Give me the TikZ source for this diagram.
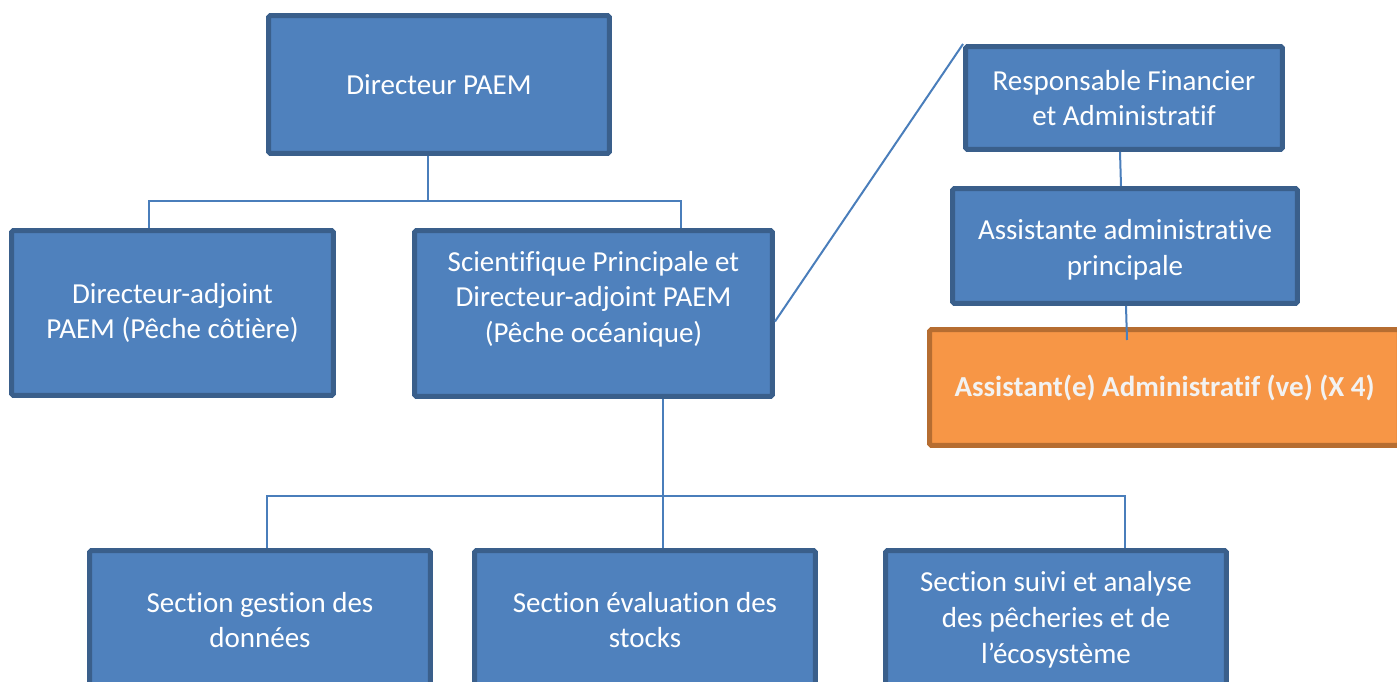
\documentclass[tikz,border=0pt]{standalone}
\usepackage{fontspec}
\setmainfont[Ligatures=NoCommon]{Carlito}
\usepackage{tikz}
\usetikzlibrary{calc}

\definecolor{boxblue}{HTML}{4F81BD}
\definecolor{boxedge}{HTML}{3A5F8B}
\definecolor{linkblue}{HTML}{4A7EBB}
\definecolor{boxorange}{HTML}{F79646}
\definecolor{orangeedge}{HTML}{B66D31}

\tikzset{
    box/.style={draw=boxedge, fill=boxblue, line width=0.1cm, rounded corners=1pt,
        text=white, align=center, inner sep=0pt,
        font=\fontsize{16.5}{20.4}\selectfont},
    orangebox/.style={box, draw=orangeedge, fill=boxorange, text=white!95!black,
        font=\fontsize{16.5}{20.4}\selectfont\bfseries},
    link/.style={draw=linkblue, line width=0.04cm}
}

\begin{document}
\begin{tikzpicture}[x=0.02cm, y=-0.02cm]
    \clip (0,0) rectangle (1397,682);
    %Direction
    \node[box, minimum width=6.82cm, minimum height=2.76cm] (dir) at (439,84.5) {Directeur PAEM};
    \node[box, minimum width=6.44cm, minimum height=3.3cm] (adj) at (172.5,313) {Directeur-adjoint\\PAEM (Pêche côtière)};
    \node[box, minimum width=7.16cm, minimum height=3.32cm, text depth=19pt] (sci) at (593.5,313.5) {Scientifique Principale et\\Directeur-adjoint PAEM\\(Pêche océanique)};
    %Administration
    \node[box, minimum width=6.34cm, minimum height=2.06cm] (resp) at (1124,98) {Responsable Financier\\et Administratif};
    \node[box, minimum width=6.9cm, minimum height=2.3cm, text height=36pt] (asst) at (1125,246) {Assistante administrative\\principale};
    \node[orangebox, minimum width=9.4cm, minimum height=2.32cm] (ast4) at (1164.5,387.5) {Assistant(e) Administratif (ve) (X 4)};
    %Sections
    \node[box, minimum width=6.82cm, minimum height=2.78cm] (sec1) at (260,620) {Section gestion des\\données};
    \node[box, minimum width=6.82cm, minimum height=2.78cm] (sec2) at (645,620) {Section évaluation des\\stocks};
    \node[box, minimum width=6.82cm, minimum height=2.78cm] (sec3) at (1056,620) {Section suivi et analyse\\des pêcheries et de\\l’écosystème};
    %Links
    \coordinate (b1) at (428,201);
    \coordinate (t1) at (149,201);
    \coordinate (t2) at (681,201);
    \draw[link] (dir.south -| b1) -- (b1);
    \draw[link] (adj.north -| t1) -- (t1) -- (t2) -- (sci.north -| t2);
    \coordinate (b2) at (663,496);
    \coordinate (t3) at (267,496);
    \coordinate (t4) at (1125,496);
    \draw[link] (sci.south -| b2) -- (sec2.north -| b2);
    \draw[link] (sec1.north -| t3) -- (t3) -- (t4) -- (sec3.north -| t4);
    \draw[link] ($(sci.east)+(0,8)$) -- (resp.north west);
    \draw[link] (resp.south -| 1120,0) -- (asst.north -| 1121,0);
    \draw[link] (asst.south -| 1126,0) -- (1127,340);
\end{tikzpicture}
\end{document}
